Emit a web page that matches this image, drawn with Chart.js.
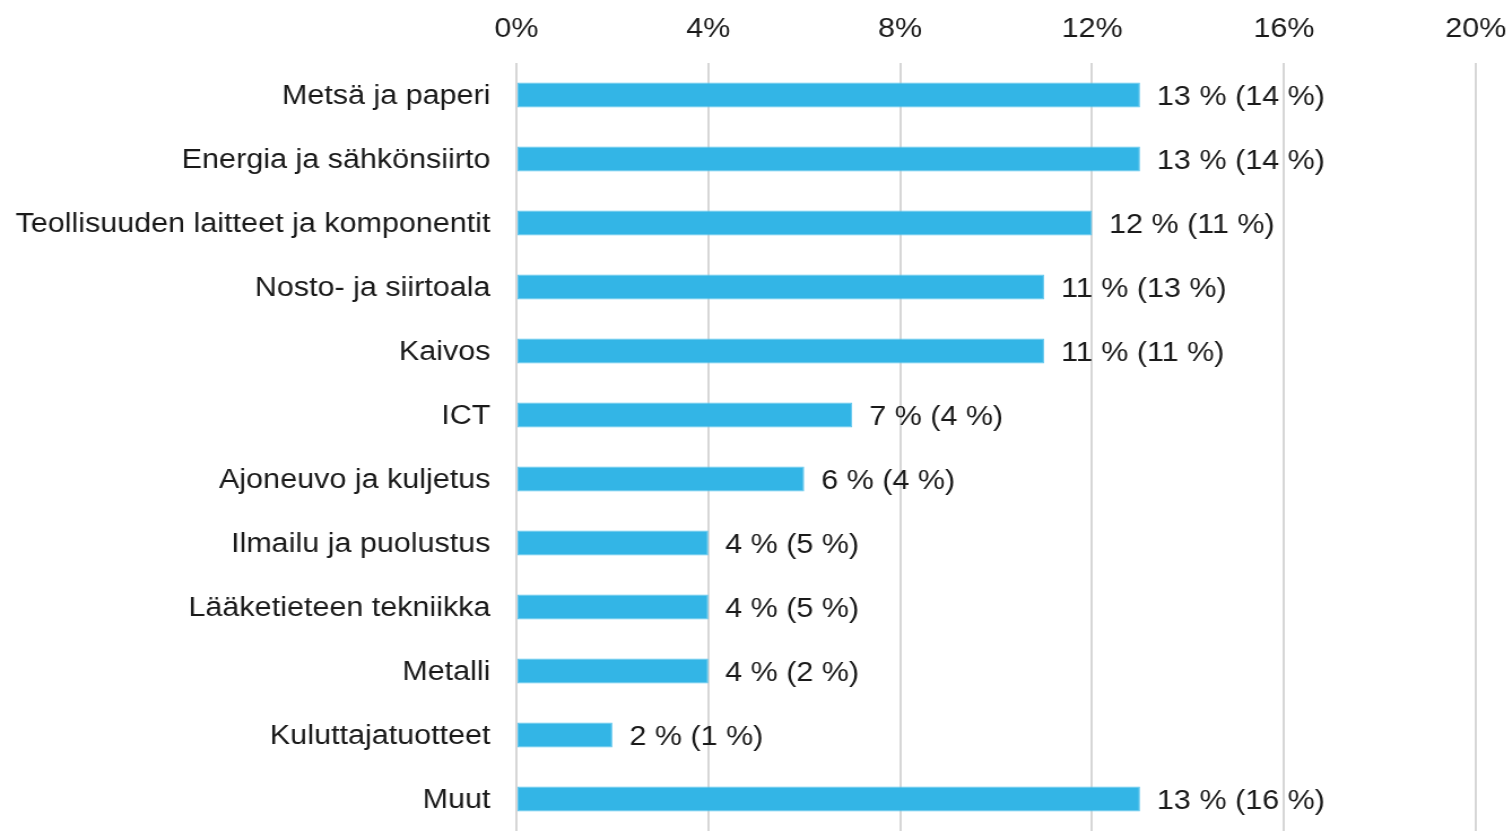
<!DOCTYPE html>
<html>
<head>
<meta charset="utf-8">
<script src="https://cdn.jsdelivr.net/npm/chart.js@4"></script>
<style>
  html, body { margin: 0; padding: 0; background: #fff; overflow: hidden; }
  /* the source picture is stretched sideways a little, so is this */
  #wrap { width: 1338px; height: 831px; transform: scaleX(1.13); transform-origin: 0 0; }
</style>
</head>
<body>
<div id="wrap"><canvas id="chart" width="1338" height="831"></canvas></div>
<script>
const categories = [
  'Metsä ja paperi',
  'Energia ja sähkönsiirto',
  'Teollisuuden laitteet ja komponentit',
  'Nosto- ja siirtoala',
  'Kaivos',
  'ICT',
  'Ajoneuvo ja kuljetus',
  'Ilmailu ja puolustus',
  'Lääketieteen tekniikka',
  'Metalli',
  'Kuluttajatuotteet',
  'Muut'
];
const currentShare = [13, 13, 12, 11, 11, 7, 6, 4, 4, 4, 2, 13];
const previousShare = [14, 14, 11, 13, 11, 4, 4, 5, 5, 2, 1, 16];
const xTicks = [0, 4, 8, 12, 16, 20];

const FONT = '"Liberation Sans", Arial, sans-serif';

// draws "13 % (14 %)" after each bar
const valueLabels = {
  id: 'valueLabels',
  afterDatasetsDraw(chart) {
    const ctx = chart.ctx;
    const meta = chart.getDatasetMeta(0);
    ctx.save();
    ctx.font = '27px ' + FONT;
    ctx.fillStyle = '#1a1a1a';
    ctx.textBaseline = 'middle';
    ctx.textAlign = 'left';
    meta.data.forEach((bar, i) => {
      const txt = currentShare[i] + ' % (' + previousShare[i] + ' %)';
      ctx.fillText(txt, bar.x + 15, bar.y + 3);
    });
    ctx.restore();
  }
};

new Chart(document.getElementById('chart'), {
  type: 'bar',
  data: {
    labels: categories,
    datasets: [{
      data: currentShare,
      backgroundColor: '#33b5e6',
      borderColor: '#5ec6ee',
      borderWidth: 1,
      borderSkipped: false,
      categoryPercentage: 0.8,
      barPercentage: 0.49
    }]
  },
  plugins: [valueLabels],
  options: {
    indexAxis: 'y',
    responsive: false,
    animation: false,
    layout: { padding: { left: 0, right: 32, top: 0, bottom: 0 } },
    plugins: {
      legend: { display: false },
      tooltip: { enabled: false }
    },
    scales: {
      x: {
        position: 'top',
        min: 0,
        max: 20,
        z: 1,
        afterBuildTicks: scale => { scale.ticks = xTicks.map(v => ({ value: v })); },
        afterFit: scale => {
          scale.height = 63;
          scale.paddingLeft = 0;
          scale.paddingRight = 0;
        },
        border: { display: false },
        grid: { color: 'rgba(0,0,0,0.16)', lineWidth: 2, drawTicks: false },
        ticks: {
          padding: 17,
          color: '#1a1a1a',
          font: { family: FONT, size: 27 },
          callback: v => v + '%'
        }
      },
      y: {
        afterFit: scale => {
          scale.width = 457;
          scale.paddingTop = 0;
          scale.paddingBottom = 0;
        },
        border: { display: false },
        grid: { display: false, drawTicks: false },
        ticks: {
          padding: 23,
          labelOffset: 2,
          color: '#1a1a1a',
          font: { family: FONT, size: 27 }
        }
      }
    }
  }
});
</script>
</body>
</html>
